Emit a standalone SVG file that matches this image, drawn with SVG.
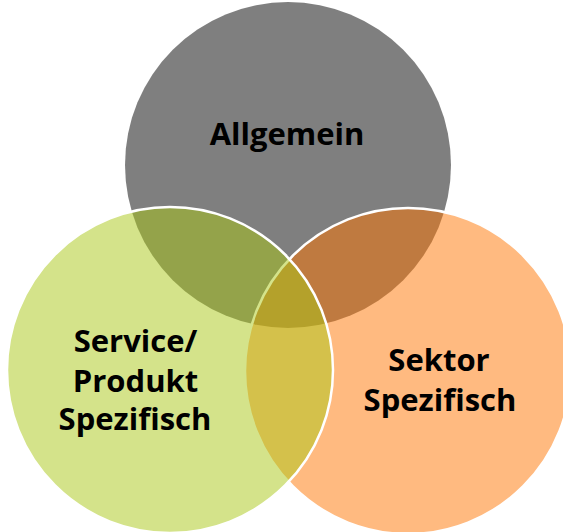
<svg xmlns="http://www.w3.org/2000/svg" width="563" height="532" viewBox="0 0 563 532">
<style>
.c{stroke:#FFFFFF;stroke-width:2.5}
.t{font-family:"Open Sans","Noto Sans","Liberation Sans",sans-serif;font-weight:bold;font-size:31px;fill:#000000;text-anchor:middle}
</style>
<rect width="563" height="532" fill="#FFFFFF"/>
<g id="allgemein">
<circle cx="288" cy="165" r="163" fill="#000000" fill-opacity="0.5"/>
<text class="t" x="287" y="144.5">Allgemein</text>
</g>
<g id="sektor">
<circle class="c" cx="408" cy="371" r="163" fill="#FF7501" fill-opacity="0.5"/>
</g>
<g id="service">
<circle class="c" cx="170" cy="370" r="163" fill="#A9C715" fill-opacity="0.5"/>
</g>
<g id="labels">
<text class="t" x="135.5" y="352">Service/</text>
<text class="t" x="135.5" y="391.5">Produkt</text>
<text class="t" x="135" y="430">Spezifisch</text>
<text class="t" x="439" y="371">Sektor</text>
<text class="t" x="440" y="410.5">Spezifisch</text>
</g>
<g id="connectors"></g>
</svg>
